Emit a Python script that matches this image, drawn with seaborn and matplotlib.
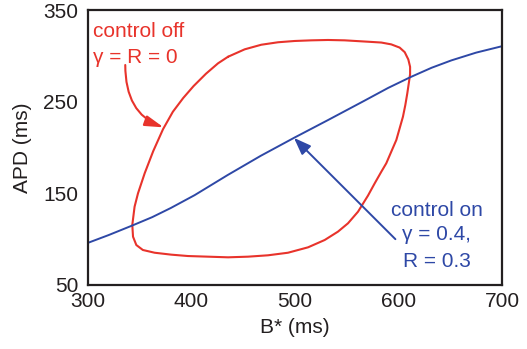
import matplotlib
matplotlib.use("Agg")
import matplotlib.pyplot as plt
import pandas as pd
import seaborn as sns

# APD vs B* trajectory with control off (closed red loop, clockwise from top-left)
off_b = [435.3, 451.4, 467.4, 483.6, 499.7, 515.8, 531.9, 548.0, 570.5, 583.4,
         593.0, 601.1, 606.0, 609.5, 611.2, 611.2, 610.4, 608.5, 606.6, 604.3,
         601.1, 597.9, 593.0, 588.2, 583.4, 577.0, 570.5, 560.9, 551.2, 541.5,
         528.7, 512.6, 493.2, 473.9, 454.6, 435.3, 416.0, 396.6, 380.5, 364.4,
         353.0, 346.7, 343.5, 342.8, 345.0, 348.3, 354.8, 363.0, 372.5, 382.0,
         392.0, 402.0, 414.0, 425.6]
off_apd = [299.0, 307.1, 312.1, 314.8, 316.2, 316.9, 317.3, 316.9, 315.4, 314.5,
           312.5, 309.0, 304.0, 296.0, 288.0, 280.0, 273.6, 259.1, 246.4, 233.6,
           220.9, 208.2, 195.4, 182.8, 173.6, 160.9, 147.5, 130.0, 117.3, 108.2,
           99.1, 91.1, 85.2, 82.4, 80.9, 80.2, 80.9, 81.6, 83.1, 85.2,
           88.2, 93.6, 102.7, 115.5, 135.4, 150.0, 172.0, 196.0, 220.0, 239.0,
           254.0, 267.0, 280.5, 291.8]

# APD vs B* restitution curve with control on
on_b = [300, 320, 343, 362, 380, 403, 435, 467, 499, 532, 567, 590, 612, 632,
        651, 675, 700]
on_apd = [96, 104.5, 115, 124, 134, 148, 170, 191, 210.5, 230, 251, 265, 277,
          287, 295, 303.5, 310.5]

x_ticks = [300, 400, 500, 600, 700]
y_ticks = [50, 150, 250, 350]

RED = "#e8332b"
BLUE = "#2e48a6"
INK = "#231f20"
FS = 15

sns.set_style("white")
plt.rcParams["font.family"] = ["Liberation Sans", "DejaVu Sans"]

off_df = pd.DataFrame({"B": off_b + off_b[:1], "APD": off_apd + off_apd[:1]})
on_df = pd.DataFrame({"B": on_b, "APD": on_apd})

fig = plt.figure(figsize=(5.27, 3.49), dpi=100)
ax = fig.add_axes([88 / 527, 1 - 285 / 349, 414 / 527, 275 / 349])

sns.lineplot(data=off_df, x="B", y="APD", sort=False, estimator=None,
             color=RED, lw=1.5, ax=ax, solid_joinstyle="round")
sns.lineplot(data=on_df, x="B", y="APD", sort=False, estimator=None,
             color=BLUE, lw=1.4, ax=ax, solid_joinstyle="round")

ax.set_xlim(300, 700)
ax.set_ylim(50, 350)
ax.set_xticks(x_ticks)
ax.set_yticks(y_ticks)
ax.set_xticklabels([str(v) for v in x_ticks])
ax.set_yticklabels([str(v) for v in y_ticks])
ax.tick_params(axis="x", direction="in", length=6, width=1.4, color=INK,
               labelsize=FS, labelcolor=INK, pad=5)
ax.tick_params(axis="y", direction="in", length=8.5, width=1.4, color=INK,
               labelsize=FS, labelcolor=INK, pad=7)
for s in ax.spines.values():
    s.set_visible(True)
    s.set_color(INK)
    s.set_linewidth(1.6)

ax.set_xlabel("B* (ms)", fontsize=FS, color=INK, labelpad=5)
ax.set_ylabel("APD (ms)", fontsize=FS, color=INK, labelpad=8)

# labels and arrows
ax.text(304.8, 320.9, "control off", color=RED, fontsize=FS,
        ha="left", va="baseline")
ax.text(304.8, 292.7, "γ = R = 0", color=RED, fontsize=FS,
        ha="left", va="baseline")
ax.annotate("", xy=(373, 222), xytext=(336, 290),
            arrowprops=dict(arrowstyle="-|>,head_length=0.8,head_width=0.23",
                            mutation_scale=14, color=RED, lw=1.5,
                            shrinkA=0, shrinkB=0,
                            connectionstyle="angle3,angleA=90,angleB=-20"))

ax.text(636.7, 125.6, "control on", color=BLUE, fontsize=FS,
        ha="center", va="baseline")
ax.text(636.7, 99.1, "γ = 0.4,", color=BLUE, fontsize=FS,
        ha="center", va="baseline")
ax.text(636.7, 70, "R = 0.3", color=BLUE, fontsize=FS,
        ha="center", va="baseline")
ax.annotate("", xy=(499, 210.5), xytext=(597, 100),
            arrowprops=dict(arrowstyle="-|>,head_length=0.8,head_width=0.3",
                            mutation_scale=13, color=BLUE, lw=1.4,
                            shrinkA=0, shrinkB=0))

fig.savefig("out.png", dpi=100)
